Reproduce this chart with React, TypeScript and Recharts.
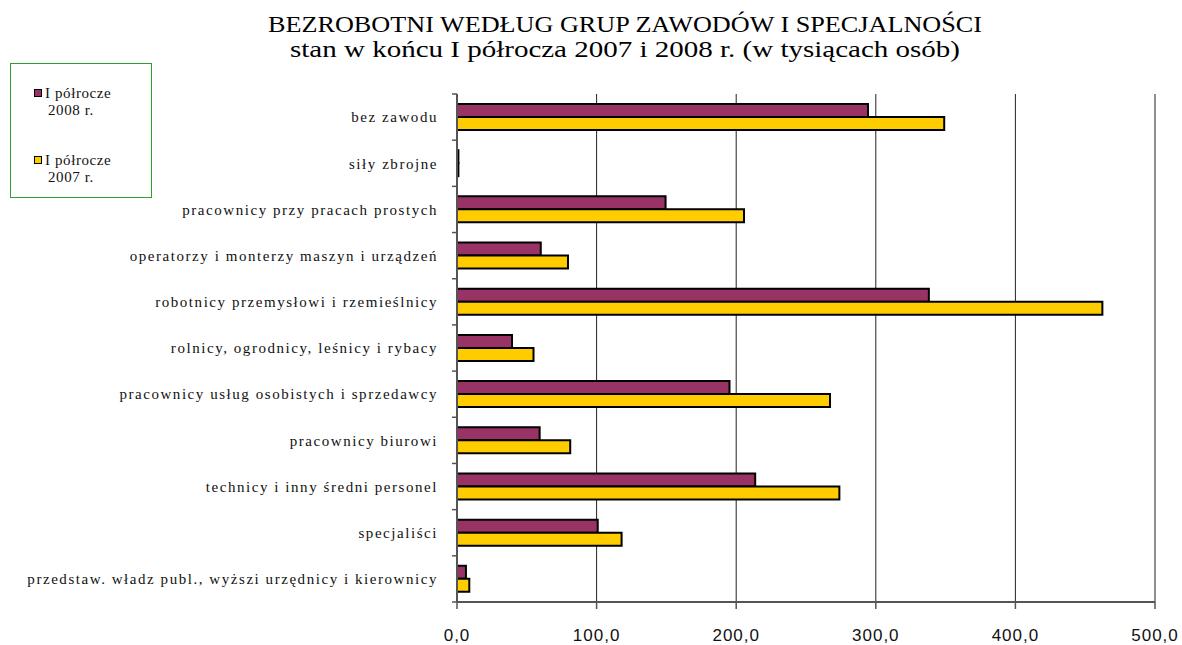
import React from 'react';
import { BarChart, Bar, XAxis, YAxis, CartesianGrid, Legend } from 'recharts';

const categories = [
  'bez zawodu',
  'siły zbrojne',
  'pracownicy przy pracach prostych',
  'operatorzy i monterzy maszyn i urządzeń',
  'robotnicy przemysłowi i rzemieślnicy',
  'rolnicy, ogrodnicy, leśnicy i rybacy',
  'pracownicy usług osobistych i sprzedawcy',
  'pracownicy biurowi',
  'technicy i inny średni personel',
  'specjaliści',
  'przedstaw. władz publ., wyższi urzędnicy i kierownicy',
];
const values2008 = [294.4, 1.0, 149.4, 60.0, 338.0, 39.4, 195.2, 59.2, 213.6, 100.8, 6.4];
const values2007 = [349.0, 1.0, 205.6, 79.5, 462.3, 54.8, 267.2, 81.1, 273.9, 117.9, 8.8];
const xTicks = [0, 100, 200, 300, 400, 500];
const seriesNames = ['I półrocze 2008 r.', 'I półrocze 2007 r.'];
const titleLines = [
  'BEZROBOTNI WEDŁUG GRUP ZAWODÓW I SPECJALNOŚCI',
  'stan w końcu I półrocza 2007 i 2008 r. (w tysiącach osób)',
];

const data = categories.map((name, i) => ({ name, v2008: values2008[i], v2007: values2007[i] }));

const W = 1182;
const H = 645;
const M = { top: 94, right: 27, bottom: 13, left: 0 };
const Y_W = 457;
const X_H = 30;
const plotH = H - M.top - M.bottom - X_H;
const band = plotH / categories.length;

const YTick = (props: any) => {
  const { x, y, payload, index } = props;
  const ax = x + 19;
  return (
    <g>
      <line x1={ax - 5} x2={ax} y1={y - band / 2} y2={y - band / 2} stroke="#555" strokeWidth={1.5} />
      {index === categories.length - 1 && (
        <line x1={ax - 5} x2={ax} y1={y + band / 2} y2={y + band / 2} stroke="#555" strokeWidth={1.5} />
      )}
      <text
        x={x}
        y={y}
        dy="0.35em"
        textAnchor="end"
        fill="#111"
        style={{ fontFamily: '"Liberation Serif", "DejaVu Serif", serif', fontSize: 15, letterSpacing: 1.55 }}
      >
        {payload.value}
      </text>
    </g>
  );
};

const LegendContent = (props: any) => {
  const items = [...(props.payload || [])].sort(
    (a: any, b: any) => seriesNames.indexOf(a.value) - seriesNames.indexOf(b.value)
  );
  return (
    <div style={{ position: 'relative', width: '100%', height: '100%' }}>
      {items.map((p: any, i: number) => {
        const m = String(p.value).match(/^(.*?)\s(\d{4}.*)$/);
        const l1 = m ? m[1] : p.value;
        const l2 = m ? m[2] : '';
        return (
          <div
            key={i}
            style={{
              position: 'absolute',
              left: 23,
              top: 21 + i * 67,
              fontFamily: '"Liberation Serif", serif',
              fontSize: 15,
              letterSpacing: 0.6,
              lineHeight: '17px',
              color: '#111',
            }}
          >
            <span
              style={{
                display: 'inline-block',
                width: 6,
                height: 6,
                background: p.color,
                border: '1.5px solid #000',
                marginRight: 3,
                verticalAlign: '1px',
              }}
            />
            {l1}
            <div style={{ paddingLeft: 14 }}>{l2}</div>
          </div>
        );
      })}
    </div>
  );
};

export default function App() {
  return (
    <div style={{ position: 'absolute', left: 0, top: 0, width: W, height: H, background: '#fff' }}>
      <svg width={W} height={90} style={{ position: 'absolute', left: 0, top: 0 }}>
        <text
          x={625}
          y={32}
          textAnchor="middle"
          textLength={714}
          lengthAdjust="spacingAndGlyphs"
          style={{ fontFamily: '"Liberation Serif", serif', fontSize: 24 }}
          fill="#000"
        >
          {titleLines[0]}
        </text>
        <text
          x={625}
          y={57}
          textAnchor="middle"
          textLength={670}
          lengthAdjust="spacingAndGlyphs"
          style={{ fontFamily: '"Liberation Serif", serif', fontSize: 24 }}
          fill="#000"
        >
          {titleLines[1]}
        </text>
      </svg>
      <div style={{ position: 'absolute', left: 0, top: 0 }}>
        <BarChart width={W} height={H} data={data} layout="vertical" margin={M} barGap={0}>
          <CartesianGrid horizontal={false} vertical={true} stroke="#222" strokeWidth={1} />
          <XAxis
            type="number"
            domain={[0, 500]}
            ticks={xTicks}
            height={X_H}
            interval={0}
            tickFormatter={(v: number) => v.toFixed(1).replace('.', ',')}
            axisLine={{ stroke: '#555', strokeWidth: 2 }}
            tickLine={{ stroke: '#555', strokeWidth: 1.5 }}
            tickSize={7}
            tickMargin={20}
            tick={{ fill: '#111', fontFamily: '"Liberation Sans", Arial, sans-serif', fontSize: 17, letterSpacing: 1 }}
          />
          <YAxis
            type="category"
            dataKey="name"
            width={Y_W}
            interval={0}
            axisLine={{ stroke: '#555', strokeWidth: 2 }}
            tickLine={false}
            tickSize={5}
            tickMargin={14}
            tick={<YTick />}
          />
          <Legend
            layout="vertical"
            align="center"
            verticalAlign="middle"
            content={<LegendContent />}
            wrapperStyle={{
              position: 'absolute',
              left: 10,
              top: 63,
              width: 142,
              height: 135,
              border: '1px solid #2ea02e',
              boxSizing: 'border-box',
              background: '#fff',
            }}
          />
          <Bar
            dataKey="v2008"
            name={seriesNames[0]}
            fill="#993366"
            stroke="#000"
            strokeWidth={2}
            barSize={13}
            isAnimationActive={false}
          />
          <Bar
            dataKey="v2007"
            name={seriesNames[1]}
            fill="#FFCC00"
            stroke="#000"
            strokeWidth={2}
            barSize={13}
            isAnimationActive={false}
          />
        </BarChart>
      </div>
    </div>
  );
}
